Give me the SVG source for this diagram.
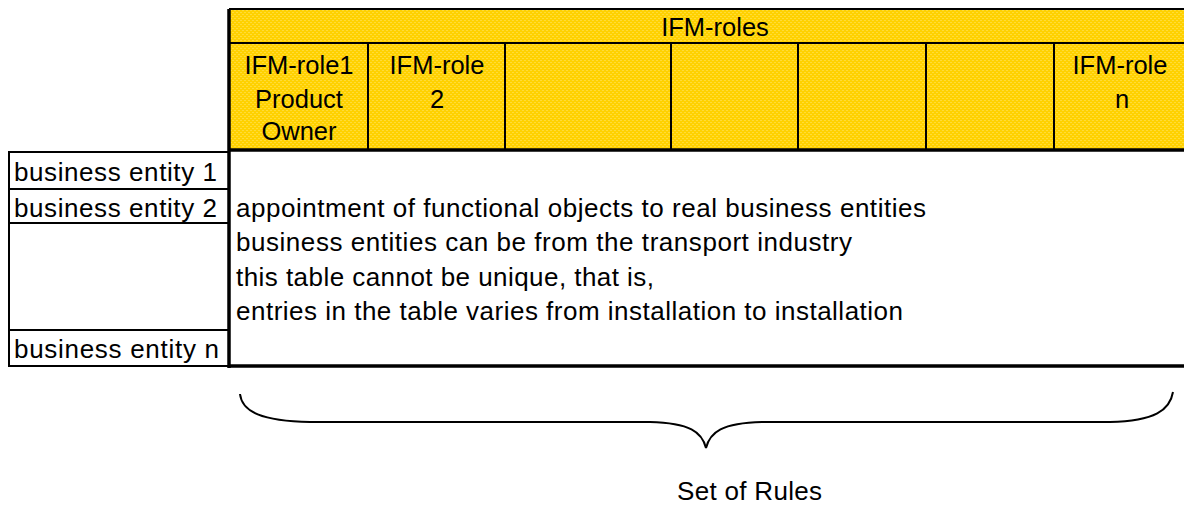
<svg xmlns="http://www.w3.org/2000/svg" width="1184" height="506" viewBox="0 0 1184 506">
  <style>
    .t { font-family: "Liberation Sans", Arial, sans-serif; font-size: 26px; fill: #000; }
    .h { font-size: 25.5px; }
    .c { text-anchor: middle; }
    .thin { stroke: #000; stroke-width: 2; fill: none; }
    .thick { stroke: #000; stroke-width: 3.5; fill: none; }
    .cell { fill: #fff; stroke: #000; stroke-width: 2; }
  </style>
  <defs>
    <!-- dotted yellow fill of the role header -->
    <pattern id="dots" width="4" height="4" patternUnits="userSpaceOnUse">
      <rect width="4" height="4" fill="#FFD100"/>
      <rect x="0" y="0" width="2" height="1" fill="#FFDC38"/>
      <rect x="2" y="2" width="2" height="1" fill="#FFDC38"/>
    </pattern>
  </defs>
  <rect width="1184" height="506" fill="#fff"/>

  <!-- role header -->
  <g id="header">
    <rect x="229" y="9" width="960" height="141" fill="url(#dots)"/>
    <line class="thin" x1="229" y1="9" x2="1184" y2="9"/>
    <line class="thin" x1="229" y1="43" x2="1184" y2="43"/>
    <line class="thin" x1="368" y1="43" x2="368" y2="150"/>
    <line class="thin" x1="505" y1="43" x2="505" y2="150"/>
    <line class="thin" x1="671" y1="43" x2="671" y2="150"/>
    <line class="thin" x1="798" y1="43" x2="798" y2="150"/>
    <line class="thin" x1="926" y1="43" x2="926" y2="150"/>
    <line class="thin" x1="1054" y1="43" x2="1054" y2="150"/>
    <line class="thick" x1="229" y1="150" x2="1184" y2="150"/>
    <text class="t h c" x="715" y="36">IFM-roles</text>
    <text class="t h c" x="299" y="74">IFM-role1</text>
    <text class="t h c" x="299" y="108">Product</text>
    <text class="t h c" x="299" y="140">Owner</text>
    <text class="t h c" x="437" y="74">IFM-role</text>
    <text class="t h c" x="437" y="108">2</text>
    <text class="t h c" x="1120" y="74">IFM-role</text>
    <text class="t h c" x="1122" y="108">n</text>
  </g>

  <!-- business entity rows -->
  <g id="entities">
    <rect class="cell" x="9" y="152" width="220" height="37"/>
    <rect class="cell" x="9" y="189" width="220" height="34"/>
    <rect class="cell" x="9" y="223" width="220" height="107"/>
    <rect class="cell" x="9" y="330" width="220" height="36"/>
    <text class="t" x="14" y="181" textLength="203">business entity 1</text>
    <text class="t" x="14" y="217" textLength="203">business entity 2</text>
    <text class="t" x="14" y="358" textLength="205">business entity n</text>
  </g>

  <!-- rule body -->
  <g id="rules">
    <line class="thick" x1="229" y1="9" x2="229" y2="368"/>
    <line class="thick" x1="229" y1="366" x2="1184" y2="366"/>
    <text class="t" x="236" y="217" textLength="690">appointment of functional objects to real business entities</text>
    <text class="t" x="236" y="251" textLength="616">business entities can be from the transport industry</text>
    <text class="t" x="236" y="286" textLength="418">this table cannot be unique, that is,</text>
    <text class="t" x="236" y="320" textLength="667">entries in the table varies from installation to installation</text>
  </g>

  <!-- brace and caption -->
  <g id="connectors">
    <path class="thin" d="M240,394 C242,412 262,421 310,422 L650,422 C690,423 702,432 706,448 C710,432 722,423 762,422 L1110,422 C1155,421 1170,410 1173,392"/>
  </g>
  <g id="caption">
    <text class="t" x="677" y="500" textLength="145">Set of Rules</text>
  </g>
</svg>
